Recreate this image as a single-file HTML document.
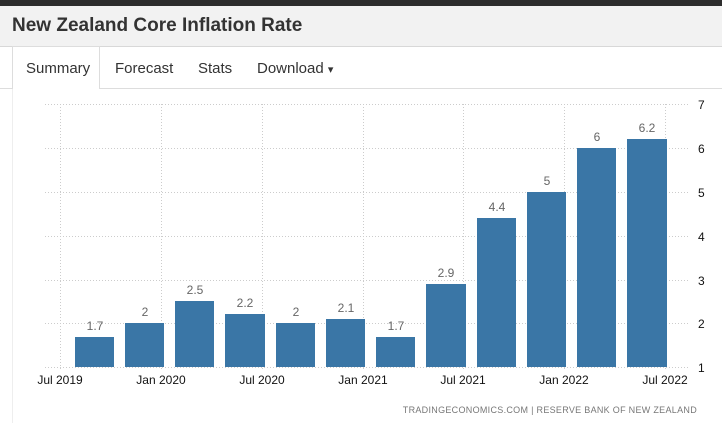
<!DOCTYPE html>
<html><head><style>
body{margin:0;width:722px;height:423px;overflow:hidden;background:#fff;font-family:"Liberation Sans",Arial,sans-serif;position:relative}
.top{position:absolute;left:0;top:0;width:722px;height:6px;background:#2d2d2d}
.hdr{position:absolute;left:0;top:6px;width:722px;height:40px;background:#f2f2f2;border-bottom:1px solid #d8d8d8}
.hdr h1{margin:0;position:absolute;left:12px;top:9px;font-size:19px;font-weight:bold;color:#333}
.tabline{position:absolute;left:0;top:88px;width:722px;height:1px;background:#ddd}
.tab{position:absolute;top:60px;font-size:15px;color:#333}
.sum{position:absolute;left:12px;top:46px;width:88px;height:43px;background:#fff;border:1px solid #ddd;border-bottom:none;box-sizing:border-box}
.lside{position:absolute;left:12px;top:89px;width:1px;height:334px;background:#eee}
</style></head><body>
<div class="top"></div>
<div class="hdr"><h1>New Zealand Core Inflation Rate</h1></div>
<div class="tabline"></div>
<div class="sum"></div>
<div class="lside"></div>
<div class="tab" style="left:26px">Summary</div>
<div class="tab" style="left:115px">Forecast</div>
<div class="tab" style="left:198px">Stats</div>
<div class="tab" style="left:257px">Download <span style="font-size:11px">&#9662;</span></div>
<svg width="722" height="423" style="position:absolute;left:0;top:0" font-family="Liberation Sans,Arial,sans-serif">
<g stroke="#ccc" stroke-dasharray="1,2">
<line x1="45" x2="690" y1="104.5" y2="104.5"/><line x1="45" x2="690" y1="148.5" y2="148.5"/><line x1="45" x2="690" y1="192.5" y2="192.5"/><line x1="45" x2="690" y1="236.5" y2="236.5"/><line x1="45" x2="690" y1="280.5" y2="280.5"/><line x1="45" x2="690" y1="323.5" y2="323.5"/><line x1="45" x2="690" y1="367.5" y2="367.5"/>
<line x1="60.5" x2="60.5" y1="104" y2="371"/><line x1="161.5" x2="161.5" y1="104" y2="371"/><line x1="262.5" x2="262.5" y1="104" y2="371"/><line x1="363.5" x2="363.5" y1="104" y2="371"/><line x1="463.5" x2="463.5" y1="104" y2="371"/><line x1="564.5" x2="564.5" y1="104" y2="371"/><line x1="665.5" x2="665.5" y1="104" y2="371"/>
</g>
<g fill="#3a76a6">
<rect x="75" y="337" width="39" height="30"/><rect x="125" y="323" width="39" height="44"/><rect x="175" y="301" width="39" height="66"/><rect x="225" y="314" width="40" height="53"/><rect x="276" y="323" width="39" height="44"/><rect x="326" y="319" width="39" height="48"/><rect x="376" y="337" width="39" height="30"/><rect x="426" y="284" width="40" height="83"/><rect x="477" y="218" width="39" height="149"/><rect x="527" y="192" width="39" height="175"/><rect x="577" y="148" width="39" height="219"/><rect x="627" y="139" width="40" height="228"/>
</g>
<g fill="#666" font-size="12" text-anchor="middle">
<text x="95" y="330">1.7</text><text x="145" y="316">2</text><text x="195" y="294">2.5</text><text x="245" y="307">2.2</text><text x="296" y="316">2</text><text x="346" y="312">2.1</text><text x="396" y="330">1.7</text><text x="446" y="277">2.9</text><text x="497" y="211">4.4</text><text x="547" y="185">5</text><text x="597" y="141">6</text><text x="647" y="132">6.2</text>
</g>
<g fill="#111" font-size="12">
<text x="698" y="109">7</text><text x="698" y="153">6</text><text x="698" y="197">5</text><text x="698" y="241">4</text><text x="698" y="285">3</text><text x="698" y="328">2</text><text x="698" y="372">1</text>
</g>
<g fill="#111" font-size="12" text-anchor="middle">
<text x="60" y="384">Jul 2019</text><text x="161" y="384">Jan 2020</text><text x="262" y="384">Jul 2020</text><text x="363" y="384">Jan 2021</text><text x="463" y="384">Jul 2021</text><text x="564" y="384">Jan 2022</text><text x="665" y="384">Jul 2022</text>
</g>
<text x="697" y="413" fill="#777" font-size="9" text-anchor="end" letter-spacing="0.3">TRADINGECONOMICS.COM  |  RESERVE BANK OF NEW ZEALAND</text>
</svg>
</body></html>
